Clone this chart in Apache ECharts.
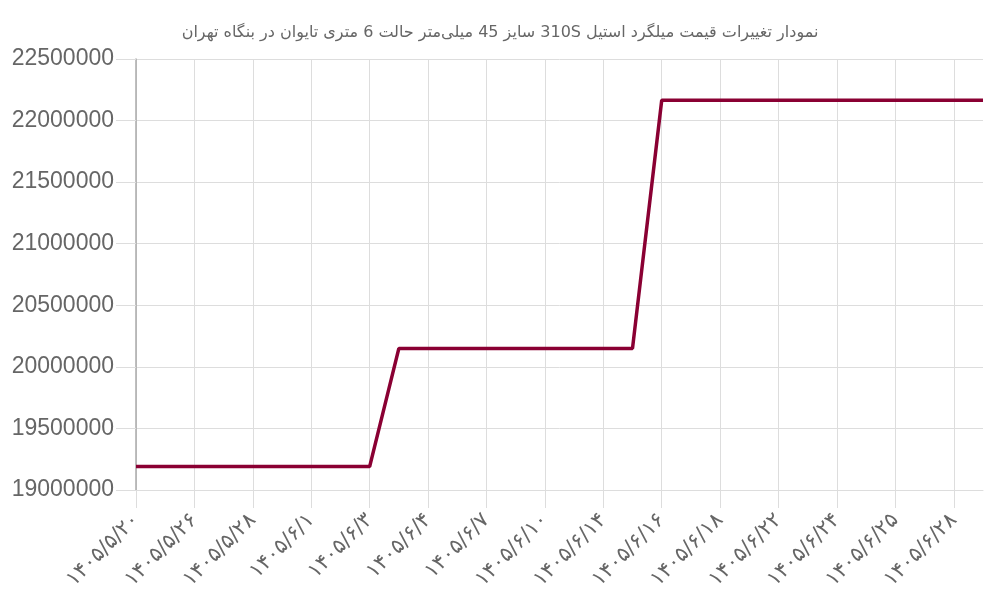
<!DOCTYPE html>
<html><head><meta charset="utf-8">
<script src="https://cdn.jsdelivr.net/npm/echarts@6/dist/echarts.min.js"></script>
<style>html,body{margin:0;padding:0;background:#fff}#c{width:1000px;height:600px}</style>
</head><body><div id="c"></div>
<script>
const titleText = 'نمودار تغییرات قیمت میلگرد استیل 310S سایز 45 میلی‌متر حالت 6 متری تایوان در بنگاه تهران';
const categories = [
  '۱۴۰۵/۵/۲۰','۱۴۰۵/۵/۲۲','۱۴۰۵/۵/۲۶','۱۴۰۵/۵/۲۷','۱۴۰۵/۵/۲۸','۱۴۰۵/۵/۳۱',
  '۱۴۰۵/۶/۱','۱۴۰۵/۶/۲','۱۴۰۵/۶/۳','۱۴۰۵/۶/۳ ','۱۴۰۵/۶/۴','۱۴۰۵/۶/۶',
  '۱۴۰۵/۶/۷','۱۴۰۵/۶/۹','۱۴۰۵/۶/۱۰','۱۴۰۵/۶/۱۳','۱۴۰۵/۶/۱۴','۱۴۰۵/۶/۱۵',
  '۱۴۰۵/۶/۱۶','۱۴۰۵/۶/۱۷','۱۴۰۵/۶/۱۸','۱۴۰۵/۶/۲۱','۱۴۰۵/۶/۲۲','۱۴۰۵/۶/۲۳',
  '۱۴۰۵/۶/۲۴','۱۴۰۵/۶/۲۴ ','۱۴۰۵/۶/۲۵','۱۴۰۵/۶/۲۷','۱۴۰۵/۶/۲۸','۱۴۰۵/۶/۳۰'
];
const prices = [
  19190000,19190000,19190000,19190000,19190000,19190000,19190000,19190000,19190000,
  20150000,20150000,20150000,20150000,20150000,20150000,20150000,20150000,20150000,
  22165000,22165000,22165000,22165000,22165000,22165000,22165000,22165000,22165000,22165000,22165000,22165000
];
const yMin = 19000000, yMax = 22500000, yStep = 500000;

const chart = echarts.init(document.getElementById('c'), null, {renderer:'canvas'});
chart.setOption({
  animation:false,
  backgroundColor:'#fff',
  title:{text:'\u202B' + titleText + '\u202C',left:'center',top:20,textStyle:{fontFamily:'DejaVu Sans, Liberation Sans',fontSize:16,fontWeight:'normal',color:'#666'}},
  grid:{left:136,right:17,top:59,bottom:110,containLabel:false},
  xAxis:{
    type:'category',data:categories,boundaryGap:false,
    axisLine:{lineStyle:{color:'#ddd',width:1}},
    axisTick:{show:true,interval:1,length:18,lineStyle:{color:'#ddd'}},
    axisLabel:{interval:1,rotate:45,margin:27,fontSize:21,color:'#666',fontFamily:'DejaVu Sans, Liberation Sans'},
    splitLine:{show:true,interval:1,lineStyle:{color:'#ddd'}}
  },
  yAxis:{
    type:'value',min:yMin,max:yMax,interval:yStep,
    axisLine:{show:true,lineStyle:{color:'#aaa',width:1.5}},
    axisTick:{show:true,length:20,lineStyle:{color:'#ddd'}},
    axisLabel:{margin:22,fontSize:23,color:'#666',fontFamily:'Liberation Sans, Arial',formatter:function(v){return String(v);}},
    splitLine:{show:true,lineStyle:{color:'#ddd'}}
  },
  series:[{type:'line',data:prices,showSymbol:false,symbol:'none',lineStyle:{color:'#8a0033',width:3.5},itemStyle:{color:'#8a0033'}}]
});
</script></body></html>
